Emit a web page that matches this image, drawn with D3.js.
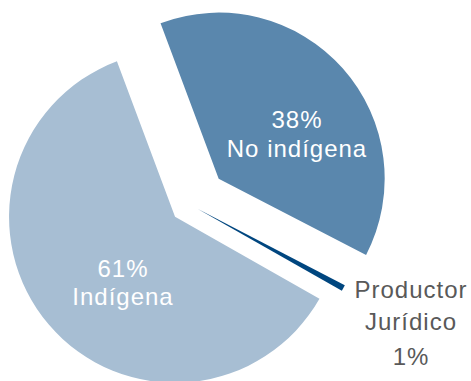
<!DOCTYPE html>
<html><head><meta charset="utf-8">
<script src="https://cdn.jsdelivr.net/npm/d3@7"></script>
<style>
html,body{margin:0;padding:0;background:#fff;}
svg{display:block;}
text{font-family:"Liberation Sans",Arial,Helvetica,sans-serif;}
</style></head>
<body>
<svg id="chart" width="471" height="381"></svg>
<script>
// Data (clockwise from start angle)
const categories = ["No indígena", "Productor Jurídico", "Indígena"];
const values = [38.3, 0.6, 61.1];
const percentLabels = ["38%", "1%", "61%"];
const colors = ["#5a87ad", "#00467f", "#a7bed3"];

// Layout
const W = 471, H = 381;
const cx = 189.5, cy = 204.5, R = 166;
const startDeg = -20.5;
const explode = [39, 9, 19];

const svg = d3.select("#chart");
const pie = d3.pie().sort(null).value(d => d)
  .startAngle(startDeg * Math.PI / 180)
  .endAngle((startDeg + 360) * Math.PI / 180);
const arcs = pie(values);
const arc = d3.arc().innerRadius(0).outerRadius(R);

const g = svg.append("g").attr("transform", `translate(${cx},${cy})`);
g.selectAll("path").data(arcs).join("path")
  .attr("d", arc)
  .attr("fill", (d, i) => colors[i])
  .attr("transform", (d, i) => {
    const a = (d.startAngle + d.endAngle) / 2;
    return `translate(${explode[i] * Math.sin(a)},${-explode[i] * Math.cos(a)})`;
  });

// Labels
const fs = 24;
function label(lines, x, y0, dy, fill) {
  const t = svg.append("text").attr("text-anchor", "middle")
    .attr("font-size", fs).attr("fill", fill).attr("letter-spacing", "1px");
  lines.forEach((s, k) => t.append("tspan").attr("x", x).attr("y", y0 + dy[k]).text(s));
}
label([percentLabels[0], categories[0]], 297, 128, [0, 29], "#ffffff");
label([percentLabels[2], "Indígena"], 123, 277, [0, 28], "#ffffff");
label(["Productor", "Jurídico", percentLabels[1]], 411, 298, [0, 32, 67], "#595959");
</script>
</body></html>
